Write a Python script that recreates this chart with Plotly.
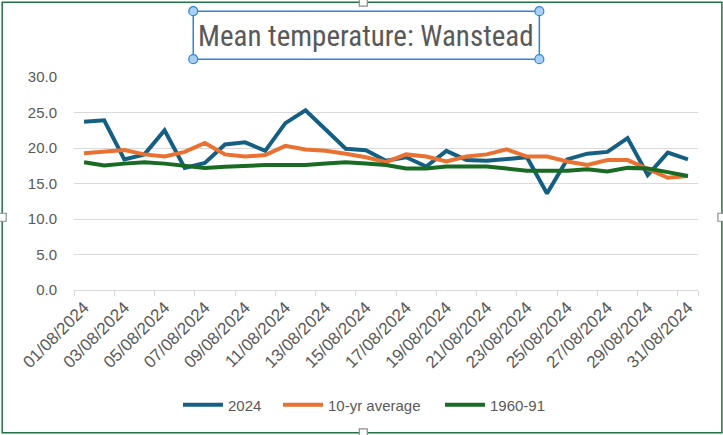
import plotly.graph_objects as go

# ---- data ----
dates = [f"{d:02d}/08/2024" for d in range(1, 32)]
temp_2024 = [23.7, 23.9, 18.4, 19.1, 22.5, 17.2, 17.9, 20.5, 20.8, 19.6,
             23.5, 25.3, 22.6, 19.9, 19.7, 18.2, 18.7, 17.4, 19.6, 18.3,
             18.2, 18.4, 18.7, 13.6, 18.4, 19.2, 19.45, 21.4, 16.2, 19.35, 18.4]
avg_10yr = [19.25, 19.5, 19.7, 19.1, 18.8, 19.45, 20.7, 19.1, 18.8, 19.0,
            20.3, 19.8, 19.6, 19.2, 18.7, 18.0, 19.1, 18.8, 18.1, 18.8,
            19.1, 19.8, 18.8, 18.8, 18.1, 17.6, 18.3, 18.3, 17.1, 15.8, 16.05]
avg_1960_91 = [18.0, 17.55, 17.8, 18.0, 17.8, 17.5, 17.2, 17.35, 17.5, 17.6,
               17.6, 17.6, 17.8, 18.0, 17.8, 17.6, 17.1, 17.1, 17.4, 17.4,
               17.4, 17.1, 16.8, 16.8, 16.8, 17.0, 16.7, 17.2, 17.1, 16.6, 16.05]
series_names = ["2024", "10-yr average", "1960-91"]
tick_labels = dates[::2]
y_ticks = [0, 5, 10, 15, 20, 25, 30]

colors = ["#156082", "#E97132", "#196B24"]
TITLE_FONT = "Liberation Sans Narrow, Roboto Condensed, Arial Narrow, sans-serif"
FONT = "Liberation Sans, Arial, sans-serif"
GREY = "#595959"

W, H = 723, 435
L, R, T, B = 73.8, 697.6, 76.8, 289.7

legend_ids = ["legend", "legend2", "legend3"]
legend_starts = [178, 278, 440]

fig = go.Figure()
for name, vals, c, lid in zip(series_names, [temp_2024, avg_10yr, avg_1960_91], colors, legend_ids):
    fig.add_trace(go.Scatter(x=dates, y=vals, name=name, mode="lines", legend=lid,
                             line=dict(color=c, width=4)))

def fx(p):
    return (p - L) / (R - L)

def fy(p):
    return (B - p) / (B - T)

shapes = []
# outer chart border
shapes.append(dict(type="rect", xref="paper", yref="paper", layer="above",
                   x0=fx(2), x1=fx(721.5), y0=fy(432.5), y1=fy(2),
                   line=dict(color="#217346", width=1.5)))
# chart border handles (mid-edges)
for hx, hy in [(363, 2), (363, 432.5), (2, 217), (721.5, 217)]:
    shapes.append(dict(type="rect", xref="paper", yref="paper", layer="above",
                       x0=fx(hx - 4), x1=fx(hx + 4), y0=fy(hy + 4), y1=fy(hy - 4),
                       fillcolor="white", line=dict(color="#8C8C8C", width=1.2)))
# title selection box
tx0, tx1, ty0, ty1 = 193, 539, 11, 59
shapes.append(dict(type="rect", xref="paper", yref="paper",
                   x0=fx(tx0), x1=fx(tx1), y0=fy(ty1), y1=fy(ty0),
                   line=dict(color="#2F86D6", width=1.5)))
for cx in (tx0, tx1):
    for cy in (ty0, ty1):
        r = 4.5
        shapes.append(dict(type="circle", xref="paper", yref="paper",
                           x0=fx(cx - r), x1=fx(cx + r), y0=fy(cy + r), y1=fy(cy - r),
                           fillcolor="#A9CFF2", line=dict(color="#2F86D6", width=1.2)))

legend_common = dict(orientation="h", xref="container", yref="container",
                     xanchor="left", y=(H - 405) / H, yanchor="middle",
                     font=dict(size=15, color=GREY, family=FONT), itemwidth=40,
                     bgcolor="rgba(0,0,0,0)")
legends = {lid: dict(legend_common, x=xs / W) for lid, xs in zip(legend_ids, legend_starts)}

fig.update_layout(
    width=W, height=H,
    margin=dict(l=L, r=W - R, t=T, b=H - B, pad=0),
    paper_bgcolor="white", plot_bgcolor="white",
    font=dict(family=FONT, color=GREY, size=15),
    showlegend=True,
    shapes=shapes,
    annotations=[dict(text="Mean temperature: Wanstead", xref="paper", yref="paper",
                      x=fx((tx0 + tx1) / 2), y=fy(36),
                      xanchor="center", yanchor="middle", showarrow=False,
                      font=dict(size=29, color=GREY, family=TITLE_FONT))],
    **legends,
)
fig.update_xaxes(type="category", tickmode="array", tickvals=tick_labels, ticktext=tick_labels,
                 tickangle=-45, tickson="boundaries", ticks="outside", ticklen=5,
                 tickcolor="#D9D9D9", showline=True, linecolor="#D9D9D9", linewidth=1,
                 showgrid=False, tickfont=dict(size=17, color=GREY),
                 range=[-0.5, 30.5])
fig.update_yaxes(range=[0, 30], tickvals=y_ticks, tickformat=".1f",
                 showgrid=True, gridcolor="#D9D9D9", gridwidth=1,
                 zeroline=False, showline=False, ticks="", ticklabelstandoff=16,
                 tickfont=dict(size=15, color=GREY))

fig.write_html("out.html", config={"displayModeBar": False},
               post_script="document.body.style.margin='0px';")
